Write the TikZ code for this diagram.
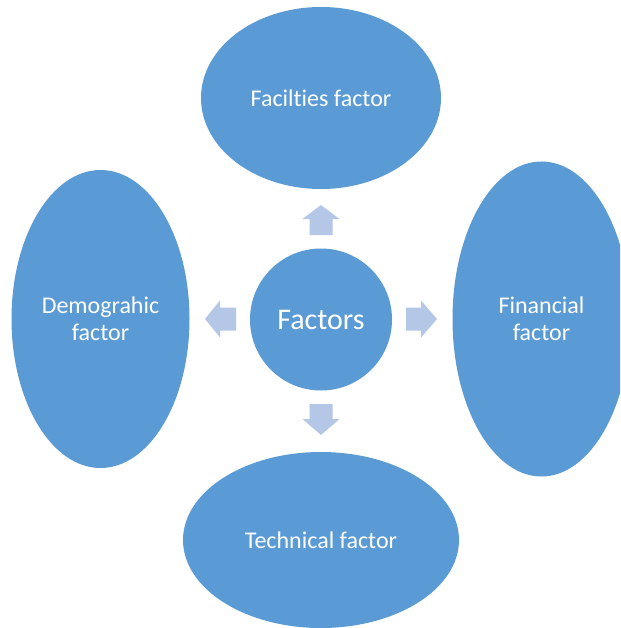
\documentclass[tikz,border=0pt]{standalone}
\usepackage{fontspec}
\setmainfont[Ligatures={NoCommon}]{Carlito}
\usetikzlibrary{shapes.geometric}
\definecolor{blob}{HTML}{5B9BD5}
\definecolor{arr}{HTML}{B4C7E7}
\tikzset{
  blob/.style={ellipse, fill=blob, draw=none, inner sep=0pt, text=white, align=center,
    font=\fontsize{24}{27}\selectfont},
  arrowshape/.style={fill=arr, draw=none}
}
\begin{document}
\begin{tikzpicture}[x=1pt,y=-1pt]
\clip (0,0) rectangle (620,628);
\fill[white] (0,0) rectangle (620,628);
\node[blob, minimum width=240, minimum height=182] (top) at (321,98) {Facilties factor};
\node[blob, minimum width=178, minimum height=298] (left) at (100.5,319) {Demograhic\\factor};
\node[blob, minimum width=178, minimum height=315] (right) at (541.5,319) {Financial\\factor};
\node[blob, minimum width=276, minimum height=176] (bottom) at (321,540) {Technical factor};
\node[blob, circle, minimum size=142, font=\fontsize{30}{34}\selectfont] (center) at (321,319.5) {Factors};
% right arrow
\fill[arrowshape] (406,307.5) -- (421,307.5) -- (421,300.5) -- (437,319) -- (421,337.5) -- (421,330.5) -- (406,330.5) -- cycle;
% left arrow
\fill[arrowshape] (236,307.5) -- (220,307.5) -- (220,300.5) -- (205,319) -- (220,337.5) -- (220,330.5) -- (236,330.5) -- cycle;
% up arrow
\fill[arrowshape] (309.5,235) -- (309.5,219) -- (302.5,219) -- (321,205) -- (339.5,219) -- (332.5,219) -- (332.5,235) -- cycle;
% down arrow
\fill[arrowshape] (309.5,404) -- (309.5,419) -- (302.5,419) -- (321,435) -- (339.5,419) -- (332.5,419) -- (332.5,404) -- cycle;
\end{tikzpicture}
\end{document}
